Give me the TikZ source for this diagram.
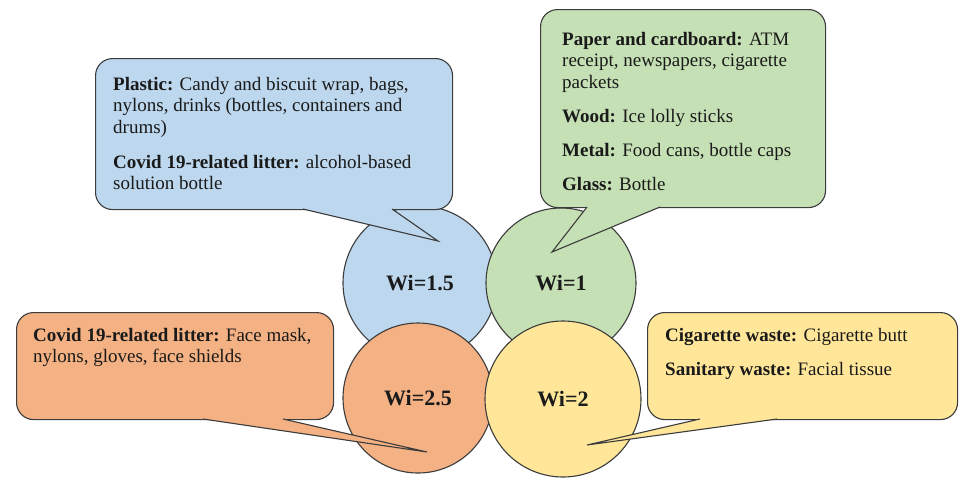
\documentclass[tikz,border=0pt]{standalone}
\usepackage{fontspec}
\setmainfont{Liberation Serif}
\usetikzlibrary{calc}
\definecolor{cblue}{HTML}{BDD7EE}
\definecolor{cgreen}{HTML}{C5E0B4}
\definecolor{corange}{HTML}{F4B183}
\definecolor{cyellow}{HTML}{FFE699}
\definecolor{edgecol}{HTML}{3C3C3C}
\definecolor{txtcol}{HTML}{1A1A1A}
\begin{document}
\begin{tikzpicture}[x=1pt,y=-1pt,
  wcircle/.style={circle, draw=edgecol, line width=1.1pt, inner sep=0pt, text=txtcol,
    font=\fontsize{22}{26}\selectfont\bfseries},
  cbox/.style={draw=edgecol, line width=1.1pt, rounded corners=17pt, inner sep=0pt, anchor=north west},
  ctext/.style={anchor=north west, inner sep=0pt, align=left, text=txtcol,
    font=\fontsize{19}{21.5}\selectfont},
  tailside/.style={draw=edgecol, line width=1.1pt, line join=miter}]
\useasboundingbox (0,0) rectangle (959,483);

% circles
\node[wcircle, fill=cblue,   minimum size=154pt] (c15) at (420,283) {Wi=1.5};
\node[wcircle, fill=cgreen,  minimum size=150pt] (c1)  at (561,283) {Wi=1};
\node[wcircle, fill=corange, minimum size=150pt] (c25) at (418,398) {Wi=2.5};
\node[wcircle, fill=cyellow, minimum size=156pt] (c2)  at (563,399) {Wi=2};

% blue callout
\node[cbox, fill=cblue, minimum width=357pt, minimum height=151pt] (bbox) at (95,58) {};
\coordinate (bb1) at (303,209);
\coordinate (bb2) at (392,209);
\coordinate (btip) at (438,241);
\fill[cblue] ($(bb1)+(0,-2)$) -- (bb1) -- (btip) -- (bb2) -- ($(bb2)+(0,-2)$) -- cycle;
\draw[tailside] (bb1) -- (btip) -- (bb2);
\node[ctext] (btext) at (113,77) {\textbf{Plastic:} Candy and biscuit wrap, bags,\\
nylons, drinks (bottles, containers and\\
drums)\\[13.5pt]
\textbf{Covid 19-related litter:} alcohol-based\\
solution bottle};

% green callout
\node[cbox, fill=cgreen, minimum width=285pt, minimum height=198pt] (gbox) at (540,9) {};
\coordinate (gb1) at (587,207);
\coordinate (gb2) at (660,207);
\coordinate (gtip) at (552,252);
\fill[cgreen] ($(gb1)+(0,-2)$) -- (gb1) -- (gtip) -- (gb2) -- ($(gb2)+(0,-2)$) -- cycle;
\draw[tailside] (gb1) -- (gtip) -- (gb2);
\node[ctext] (gtext) at (562,32) {\textbf{Paper and cardboard:} ATM\\
receipt, newspapers, cigarette\\
packets\\[12.5pt]
\textbf{Wood:} Ice lolly sticks\\[12.5pt]
\textbf{Metal:} Food cans, bottle caps\\[12.5pt]
\textbf{Glass:} Bottle};

% orange callout
\node[cbox, fill=corange, minimum width=317pt, minimum height=107pt] (obox) at (16,312) {};
\coordinate (ob1) at (203,419);
\coordinate (ob2) at (283,419);
\coordinate (otip) at (427,452);
\fill[corange] ($(ob1)+(0,-2)$) -- (ob1) -- (otip) -- (ob2) -- ($(ob2)+(0,-2)$) -- cycle;
\draw[tailside] (ob1) -- (otip) -- (ob2);
\node[ctext] (otext) at (33,328) {\textbf{Covid 19-related litter:} Face mask,\\
nylons, gloves, face shields};

% yellow callout
\node[cbox, fill=cyellow, minimum width=310pt, minimum height=107pt] (ybox) at (647,312) {};
\coordinate (yb1) at (700,419);
\coordinate (yb2) at (777,419);
\coordinate (ytip) at (587,445);
\fill[cyellow] ($(yb1)+(0,-2)$) -- (yb1) -- (ytip) -- (yb2) -- ($(yb2)+(0,-2)$) -- cycle;
\draw[tailside] (yb1) -- (ytip) -- (yb2);
\node[ctext] (ytext) at (665,328) {\textbf{Cigarette waste:} Cigarette butt\\[12.5pt]
\textbf{Sanitary waste:} Facial tissue};
\end{tikzpicture}
\end{document}
